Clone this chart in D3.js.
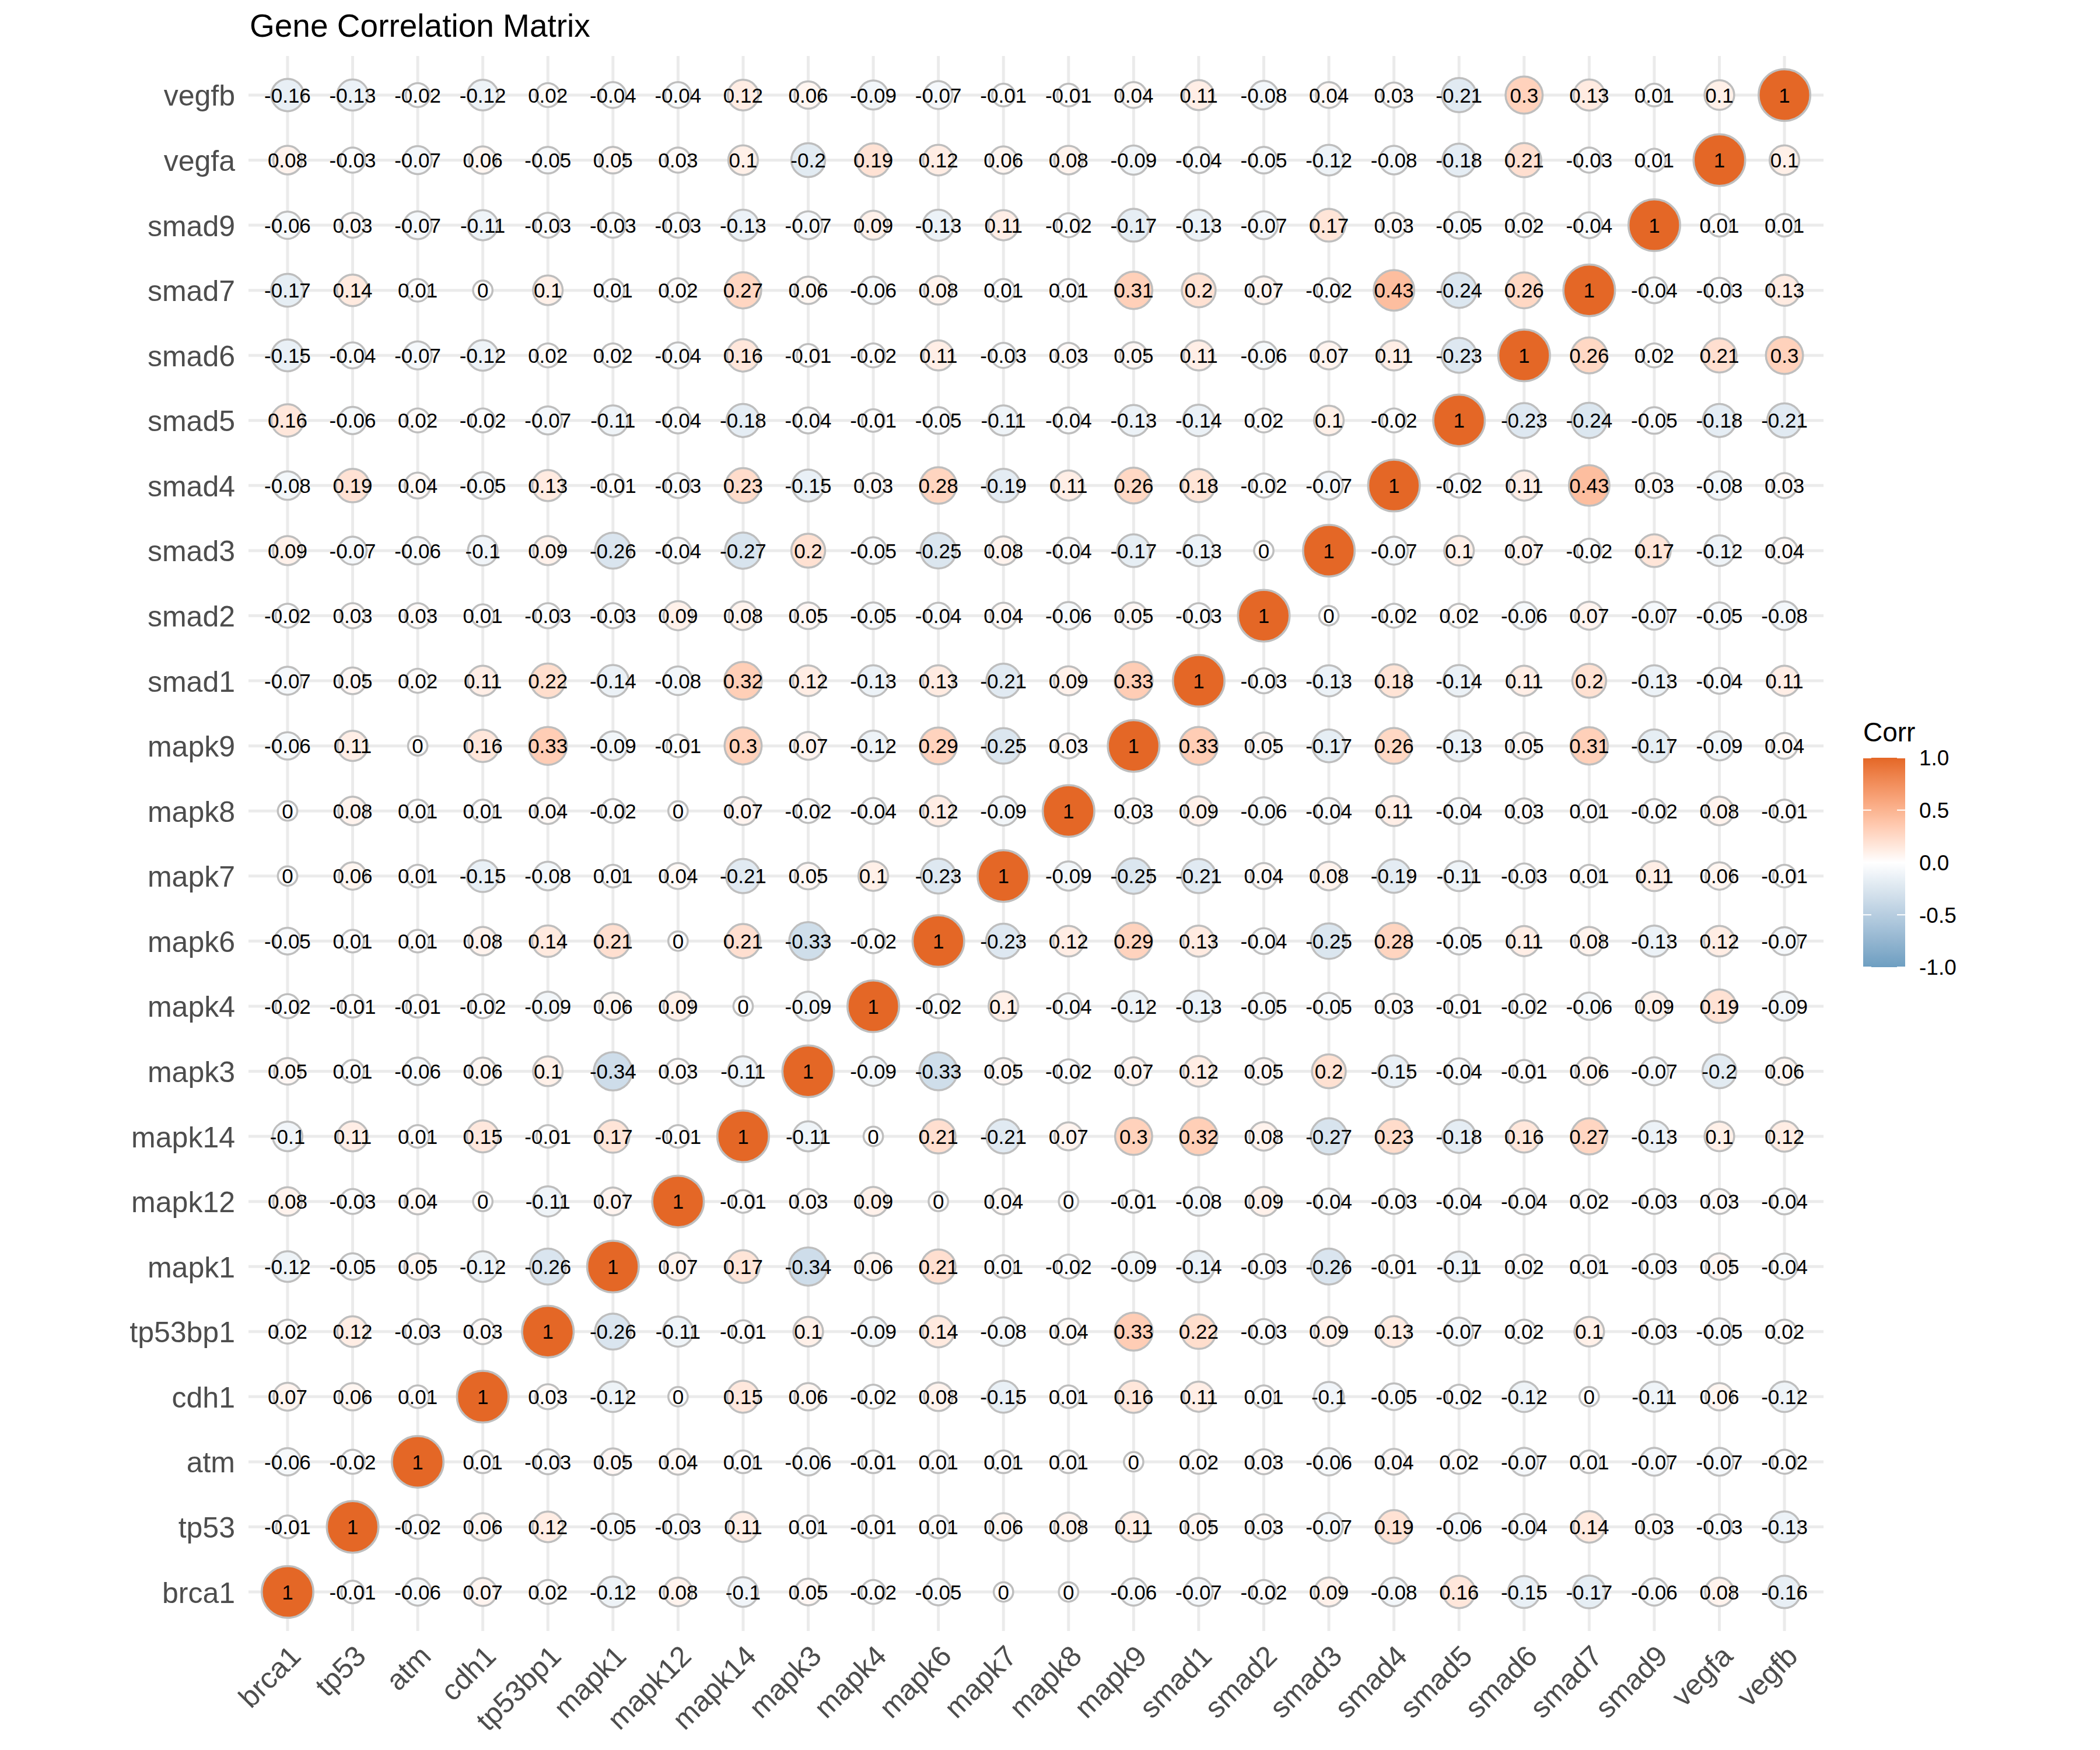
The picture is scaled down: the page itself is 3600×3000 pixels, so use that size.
<!DOCTYPE html>
<html>
<head>
<meta charset="utf-8">
<script src="https://cdn.jsdelivr.net/npm/d3@7"></script>
<style>
  body { margin: 0; background: #fff; }
  text { font-family: "Liberation Sans", Arial, Helvetica, sans-serif; }
</style>
</head>
<body>
<svg id="corrplot" width="3600" height="3000"></svg>
<script>
// gene order (bottom-to-top on y, left-to-right on x)
var genes = ["brca1","tp53","atm","cdh1","tp53bp1","mapk1","mapk12","mapk14","mapk3","mapk4",
  "mapk6","mapk7","mapk8","mapk9","smad1","smad2","smad3","smad4","smad5","smad6","smad7",
  "smad9","vegfa","vegfb"];

// correlation matrix, rows follow the genes order
var corr = [
  [1,-0.01,-0.06,0.07,0.02,-0.12,0.08,-0.1,0.05,-0.02,-0.05,0,0,-0.06,-0.07,-0.02,0.09,-0.08,0.16,-0.15,-0.17,-0.06,0.08,-0.16],
  [-0.01,1,-0.02,0.06,0.12,-0.05,-0.03,0.11,0.01,-0.01,0.01,0.06,0.08,0.11,0.05,0.03,-0.07,0.19,-0.06,-0.04,0.14,0.03,-0.03,-0.13],
  [-0.06,-0.02,1,0.01,-0.03,0.05,0.04,0.01,-0.06,-0.01,0.01,0.01,0.01,0,0.02,0.03,-0.06,0.04,0.02,-0.07,0.01,-0.07,-0.07,-0.02],
  [0.07,0.06,0.01,1,0.03,-0.12,0,0.15,0.06,-0.02,0.08,-0.15,0.01,0.16,0.11,0.01,-0.1,-0.05,-0.02,-0.12,0,-0.11,0.06,-0.12],
  [0.02,0.12,-0.03,0.03,1,-0.26,-0.11,-0.01,0.1,-0.09,0.14,-0.08,0.04,0.33,0.22,-0.03,0.09,0.13,-0.07,0.02,0.1,-0.03,-0.05,0.02],
  [-0.12,-0.05,0.05,-0.12,-0.26,1,0.07,0.17,-0.34,0.06,0.21,0.01,-0.02,-0.09,-0.14,-0.03,-0.26,-0.01,-0.11,0.02,0.01,-0.03,0.05,-0.04],
  [0.08,-0.03,0.04,0,-0.11,0.07,1,-0.01,0.03,0.09,0,0.04,0,-0.01,-0.08,0.09,-0.04,-0.03,-0.04,-0.04,0.02,-0.03,0.03,-0.04],
  [-0.1,0.11,0.01,0.15,-0.01,0.17,-0.01,1,-0.11,0,0.21,-0.21,0.07,0.3,0.32,0.08,-0.27,0.23,-0.18,0.16,0.27,-0.13,0.1,0.12],
  [0.05,0.01,-0.06,0.06,0.1,-0.34,0.03,-0.11,1,-0.09,-0.33,0.05,-0.02,0.07,0.12,0.05,0.2,-0.15,-0.04,-0.01,0.06,-0.07,-0.2,0.06],
  [-0.02,-0.01,-0.01,-0.02,-0.09,0.06,0.09,0,-0.09,1,-0.02,0.1,-0.04,-0.12,-0.13,-0.05,-0.05,0.03,-0.01,-0.02,-0.06,0.09,0.19,-0.09],
  [-0.05,0.01,0.01,0.08,0.14,0.21,0,0.21,-0.33,-0.02,1,-0.23,0.12,0.29,0.13,-0.04,-0.25,0.28,-0.05,0.11,0.08,-0.13,0.12,-0.07],
  [0,0.06,0.01,-0.15,-0.08,0.01,0.04,-0.21,0.05,0.1,-0.23,1,-0.09,-0.25,-0.21,0.04,0.08,-0.19,-0.11,-0.03,0.01,0.11,0.06,-0.01],
  [0,0.08,0.01,0.01,0.04,-0.02,0,0.07,-0.02,-0.04,0.12,-0.09,1,0.03,0.09,-0.06,-0.04,0.11,-0.04,0.03,0.01,-0.02,0.08,-0.01],
  [-0.06,0.11,0,0.16,0.33,-0.09,-0.01,0.3,0.07,-0.12,0.29,-0.25,0.03,1,0.33,0.05,-0.17,0.26,-0.13,0.05,0.31,-0.17,-0.09,0.04],
  [-0.07,0.05,0.02,0.11,0.22,-0.14,-0.08,0.32,0.12,-0.13,0.13,-0.21,0.09,0.33,1,-0.03,-0.13,0.18,-0.14,0.11,0.2,-0.13,-0.04,0.11],
  [-0.02,0.03,0.03,0.01,-0.03,-0.03,0.09,0.08,0.05,-0.05,-0.04,0.04,-0.06,0.05,-0.03,1,0,-0.02,0.02,-0.06,0.07,-0.07,-0.05,-0.08],
  [0.09,-0.07,-0.06,-0.1,0.09,-0.26,-0.04,-0.27,0.2,-0.05,-0.25,0.08,-0.04,-0.17,-0.13,0,1,-0.07,0.1,0.07,-0.02,0.17,-0.12,0.04],
  [-0.08,0.19,0.04,-0.05,0.13,-0.01,-0.03,0.23,-0.15,0.03,0.28,-0.19,0.11,0.26,0.18,-0.02,-0.07,1,-0.02,0.11,0.43,0.03,-0.08,0.03],
  [0.16,-0.06,0.02,-0.02,-0.07,-0.11,-0.04,-0.18,-0.04,-0.01,-0.05,-0.11,-0.04,-0.13,-0.14,0.02,0.1,-0.02,1,-0.23,-0.24,-0.05,-0.18,-0.21],
  [-0.15,-0.04,-0.07,-0.12,0.02,0.02,-0.04,0.16,-0.01,-0.02,0.11,-0.03,0.03,0.05,0.11,-0.06,0.07,0.11,-0.23,1,0.26,0.02,0.21,0.3],
  [-0.17,0.14,0.01,0,0.1,0.01,0.02,0.27,0.06,-0.06,0.08,0.01,0.01,0.31,0.2,0.07,-0.02,0.43,-0.24,0.26,1,-0.04,-0.03,0.13],
  [-0.06,0.03,-0.07,-0.11,-0.03,-0.03,-0.03,-0.13,-0.07,0.09,-0.13,0.11,-0.02,-0.17,-0.13,-0.07,0.17,0.03,-0.05,0.02,-0.04,1,0.01,0.01],
  [0.08,-0.03,-0.07,0.06,-0.05,0.05,0.03,0.1,-0.2,0.19,0.12,0.06,0.08,-0.09,-0.04,-0.05,-0.12,-0.08,-0.18,0.21,-0.03,0.01,1,0.1],
  [-0.16,-0.13,-0.02,-0.12,0.02,-0.04,-0.04,0.12,0.06,-0.09,-0.07,-0.01,-0.01,0.04,0.11,-0.08,0.04,0.03,-0.21,0.3,0.13,0.01,0.1,1]
];

var legendTicks = [-1, -0.5, 0, 0.5, 1];

var svg = d3.select("svg#corrplot");
var panel = { left: 426, right: 3126, top: 96, bottom: 2796 };

var x = d3.scalePoint().domain(genes).range([panel.left, panel.right]).padding(0.6);
var y = d3.scalePoint().domain(genes).range([panel.bottom, panel.top]).padding(0.6);

var fill = d3.scaleLinear().domain([-1, 0, 1])
  .range(["#6D9EC1", "#FFFFFF", "#E46726"])
  .interpolate(d3.interpolateLab);

// ggplot-ish size scale: area range 4..10 on |r|
var size = function (r) { return 4 + 6 * Math.sqrt(Math.abs(r)); };

// flatten to cells
var cells = [];
genes.forEach(function (rg, i) {
  genes.forEach(function (cg, j) {
    cells.push({ row: rg, col: cg, value: corr[i][j] });
  });
});

// grid lines
var grid = svg.append("g").attr("class", "grid");
grid.selectAll("line.v").data(genes).enter().append("line")
  .attr("x1", function (d) { return x(d); }).attr("x2", function (d) { return x(d); })
  .attr("y1", panel.top).attr("y2", panel.bottom)
  .attr("stroke", "#EBEBEB").attr("stroke-width", 5);
grid.selectAll("line.h").data(genes).enter().append("line")
  .attr("y1", function (d) { return y(d); }).attr("y2", function (d) { return y(d); })
  .attr("x1", panel.left).attr("x2", panel.right)
  .attr("stroke", "#EBEBEB").attr("stroke-width", 5);

// circles
svg.append("g").selectAll("circle").data(cells).enter().append("circle")
  .attr("cx", function (d) { return x(d.col); })
  .attr("cy", function (d) { return y(d.row); })
  .attr("r", function (d) { return 9.2 * size(d.value) / 2 - 1.75; })
  .attr("fill", function (d) { return fill(d.value); })
  .attr("stroke", "#BEBEBE")
  .attr("stroke-width", 3.5);

// labels
svg.append("g").selectAll("text").data(cells).enter().append("text")
  .attr("x", function (d) { return x(d.col); })
  .attr("y", function (d) { return y(d.row); })
  .attr("dy", "0.36em")
  .attr("text-anchor", "middle")
  .attr("font-size", "35px")
  .attr("fill", "#000")
  .text(function (d) { return String(d.value); });

// y axis
var yAxis = svg.append("g")
  .attr("transform", "translate(" + panel.left + ",0)")
  .call(d3.axisLeft(y).tickSize(0).tickPadding(23));
yAxis.select(".domain").remove();
yAxis.selectAll("text")
  .attr("font-size", "50px")
  .attr("font-family", "Liberation Sans, Arial, sans-serif")
  .attr("fill", "#4D4D4D")
  .attr("dy", "0.36em");

// x axis, rotated labels
var xAxis = svg.append("g")
  .attr("transform", "translate(0," + panel.bottom + ")")
  .call(d3.axisBottom(x).tickSize(0));
xAxis.select(".domain").remove();
xAxis.selectAll("text")
  .attr("x", 0).attr("y", 0)
  .attr("dy", "0.71em")
  .attr("transform", "translate(0,21) rotate(-45)")
  .attr("text-anchor", "end")
  .attr("font-size", "50px")
  .attr("font-family", "Liberation Sans, Arial, sans-serif")
  .attr("fill", "#4D4D4D");

// title
svg.append("text")
  .attr("x", panel.left + 2)
  .attr("y", 63)
  .attr("font-size", "55px")
  .attr("fill", "#000")
  .text("Gene Correlation Matrix");

// legend colourbar
var lg = { x: 3194, top: 1299, bottom: 1658, w: 72 };
var ly = d3.scaleLinear().domain([-1, 1]).range([lg.bottom, lg.top]);

var defs = svg.append("defs");
var grad = defs.append("linearGradient").attr("id", "corrGrad")
  .attr("x1", 0).attr("y1", 1).attr("x2", 0).attr("y2", 0);
d3.range(0, 41).forEach(function (k) {
  var v = -1 + k / 20;
  grad.append("stop").attr("offset", (k / 40 * 100) + "%").attr("stop-color", fill(v));
});

svg.append("text")
  .attr("x", lg.x)
  .attr("y", 1271)
  .attr("font-size", "46px")
  .attr("fill", "#000")
  .text("Corr");

svg.append("rect")
  .attr("x", lg.x).attr("y", lg.top)
  .attr("width", lg.w).attr("height", lg.bottom - lg.top)
  .attr("fill", "url(#corrGrad)");

var lt = svg.append("g").selectAll("g").data(legendTicks).enter().append("g");
lt.append("line")
  .attr("x1", lg.x).attr("x2", lg.x + 14)
  .attr("y1", function (d) { return ly(d); }).attr("y2", function (d) { return ly(d); })
  .attr("stroke", "#fff").attr("stroke-width", 2);
lt.append("line")
  .attr("x1", lg.x + lg.w - 14).attr("x2", lg.x + lg.w)
  .attr("y1", function (d) { return ly(d); }).attr("y2", function (d) { return ly(d); })
  .attr("stroke", "#fff").attr("stroke-width", 2);
lt.append("text")
  .attr("x", 3290)
  .attr("y", function (d) { return ly(d); })
  .attr("dy", "0.36em")
  .attr("font-size", "37px")
  .attr("fill", "#000")
  .text(function (d) { return d3.format(".1f")(d).replace("−", "-"); });
</script>
</body>
</html>
